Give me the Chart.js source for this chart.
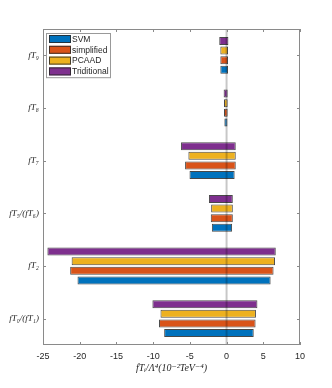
<!DOCTYPE html>
<html>
<head>
<meta charset="utf-8">
<script src="https://cdn.jsdelivr.net/npm/chart.js@4"></script>
<style>
  body { margin: 0; background: #fff; }
  #c { display: block; }
</style>
</head>
<body>
<canvas id="c" width="332" height="388"></canvas>
<script>
// categories, top to bottom
const categories = ['fT₉', 'fT₈', 'fT₇', 'fT₅/(fT₆)', 'fT₂', 'fT₀/(fT₁)'];

// limits per method (low / high), 10^-2 TeV^-4
const svmLow = [-0.85, -0.3, -5.05, -2.0, -20.3, -8.5];
const svmHigh = [0.2, 0.12, 1.1, 0.75, 6.0, 3.7];
const simplifiedLow = [-0.85, -0.35, -5.65, -2.15, -21.3, -9.2];
const simplifiedHigh = [0.2, 0.15, 1.25, 0.85, 6.4, 3.95];
const pcaadLow = [-0.85, -0.35, -5.2, -2.1, -21.1, -9.0];
const pcaadHigh = [0.2, 0.15, 1.25, 0.85, 6.6, 4.0];
const tradLow = [-1.0, -0.4, -6.2, -2.4, -24.4, -10.1];
const tradHigh = [0.25, 0.15, 1.25, 0.85, 6.7, 4.2];

const xTicks = [-25, -20, -15, -10, -5, 0, 5, 10];

const pairs = (lo, hi) => lo.map((v, i) => [v, hi[i]]);

function series(label, lo, hi, color) {
    return {
        label: label,
        data: pairs(lo, hi),
        backgroundColor: color,
        borderColor: 'rgba(40,40,40,0.85)',
        borderWidth: 1,
        borderSkipped: false,
        categoryPercentage: 0.73,
        barPercentage: 0.83
    };
}

// datasets listed top-to-bottom inside a group
const datasets = [
    series('Triditional', tradLow, tradHigh, '#7E2F8E'),
    series('PCAAD', pcaadLow, pcaadHigh, '#EDB120'),
    series('simplified', simplifiedLow, simplifiedHigh, '#D95319'),
    series('SVM', svmLow, svmHigh, '#0072BD')
];

const axisColor = '#8a8a8a';

const boxPlugin = {
    id: 'box',
    afterDatasetsDraw(chart) {
        const { ctx, chartArea: a, scales } = chart;
        ctx.save();
        // zero line
        const x0 = scales.x.getPixelForValue(0);
        ctx.strokeStyle = 'rgba(0,0,0,0.22)';
        ctx.lineWidth = 2;
        ctx.beginPath();
        ctx.moveTo(x0, a.top);
        ctx.lineTo(x0, a.bottom);
        ctx.stroke();
        // frame + inward ticks
        ctx.strokeStyle = axisColor;
        ctx.lineWidth = 1;
        ctx.strokeRect(a.left + 0.5, a.top + 0.5, a.right - a.left - 1, a.bottom - a.top - 1);
        ctx.beginPath();
        xTicks.forEach(v => {
            const px = Math.round(scales.x.getPixelForValue(v)) + 0.5;
            ctx.moveTo(px, a.bottom); ctx.lineTo(px, a.bottom - 3);
            ctx.moveTo(px, a.top); ctx.lineTo(px, a.top + 3);
        });
        categories.forEach((c, i) => {
            const py = Math.round(scales.y.getPixelForValue(i)) + 0.5;
            ctx.moveTo(a.left, py); ctx.lineTo(a.left + 3, py);
            ctx.moveTo(a.right, py); ctx.lineTo(a.right - 3, py);
        });
        ctx.stroke();
        ctx.restore();
    },
    afterDraw(chart) {
        // legend in the upper-left corner, MATLAB style
        const { ctx, chartArea: a } = chart;
        const items = chart.data.datasets.slice().reverse();
        const bx = a.left + 3, by = a.top + 4, bw = 64, rowH = 10.8;
        ctx.save();
        ctx.fillStyle = '#fff';
        ctx.fillRect(bx, by, bw, rowH * items.length + 1);
        ctx.strokeStyle = '#999';
        ctx.lineWidth = 1;
        ctx.strokeRect(bx + 0.5, by + 0.5, bw, rowH * items.length + 1);
        ctx.font = '8.5px "Liberation Sans", Arial, sans-serif';
        ctx.textBaseline = 'middle';
        items.forEach((d, i) => {
            const cy = by + 6 + i * rowH;
            ctx.fillStyle = d.backgroundColor;
            ctx.fillRect(bx + 3, cy - 4, 22, 8);
            ctx.strokeStyle = 'rgba(40,40,40,0.85)';
            ctx.strokeRect(bx + 3.5, cy - 3.5, 21, 7);
            ctx.fillStyle = '#262626';
            ctx.fillText(d.label, bx + 26, cy + 0.5);
        });
        ctx.restore();
    }
};

new Chart(document.getElementById('c'), {
    type: 'bar',
    data: { labels: categories, datasets: datasets },
    options: {
        indexAxis: 'y',
        responsive: false,
        animation: false,
        layout: { padding: { top: 29, right: 32, left: 0, bottom: 14 } },
        plugins: {
            legend: { display: false },
            tooltip: { enabled: false }
        },
        scales: {
            x: {
                min: -25,
                max: 10,
                grid: { display: false, drawTicks: false },
                border: { display: false },
                afterFit: s => { s.height = 29; },
                afterBuildTicks: s => { s.ticks = xTicks.map(v => ({ value: v })); },
                ticks: {
                    padding: 6,
                    color: '#262626',
                    font: { family: '"Liberation Sans", Arial, sans-serif', size: 9 }
                },
                title: {
                    display: true,
                    text: 'fTᵢ/Λ⁴(10⁻²TeV⁻⁴)',
                    color: '#262626',
                    padding: { top: 1, bottom: 0 },
                    font: { family: '"Liberation Serif", "DejaVu Serif", serif', size: 10, style: 'italic' }
                }
            },
            y: {
                grid: { display: false, drawTicks: false },
                border: { display: false },
                afterFit: s => { s.width = 43; },
                ticks: {
                    padding: 4,
                    color: '#262626',
                    font: { family: '"Liberation Serif", "DejaVu Serif", serif', size: 9, style: 'italic' }
                }
            }
        }
    },
    plugins: [boxPlugin]
});
</script>
</body>
</html>
